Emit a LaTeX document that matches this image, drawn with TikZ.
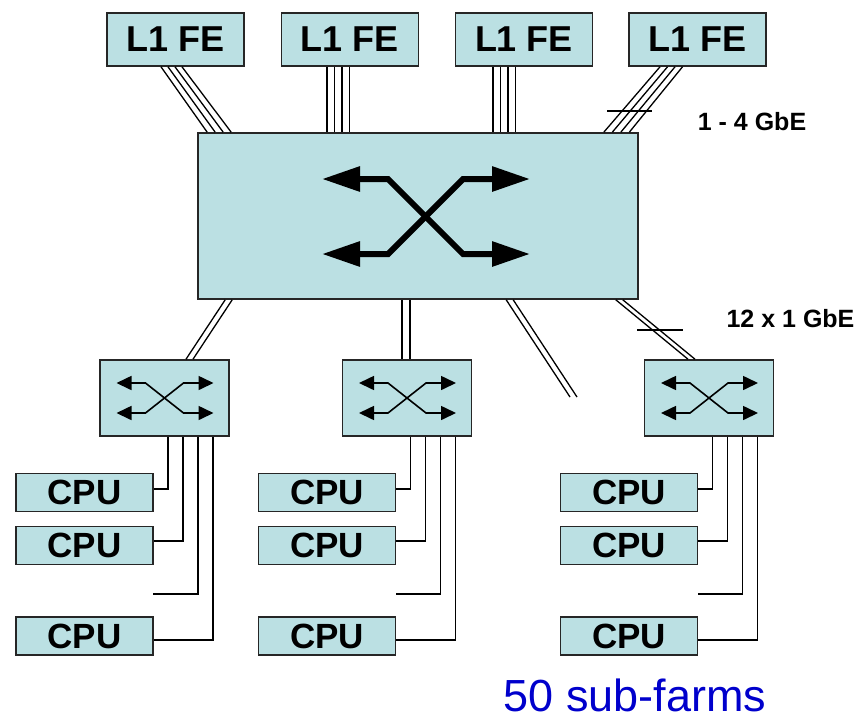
\documentclass[tikz,border=0pt]{standalone}
\usepackage{fontspec}
\setmainfont{Liberation Sans}
\usetikzlibrary{arrows.meta}

\definecolor{swfill}{RGB}{187,224,227}
\definecolor{farmblue}{RGB}{0,0,204}

\begin{document}
\begin{tikzpicture}[x=1pt, y=-1pt,
      box/.style={draw=black!85, line width=1.6pt, fill=swfill, inner sep=0pt},
      fe/.style={box, minimum width=137pt, minimum height=53pt,
                 font=\fontsize{36}{38}\selectfont\bfseries},
      cpu/.style={box, minimum width=137pt, minimum height=38pt,
                  font=\fontsize{35}{37}\selectfont\bfseries},
      swbox/.style={box, minimum width=129pt, minimum height=76pt},
      link/.style={line width=1.3pt},
      bigsw/.style={line width=6pt,
                    {Triangle[length=38pt,width=24pt]}-{Triangle[length=38pt,width=24pt]}},
      smallsw/.style={line width=1.6pt,
                      {Triangle[length=15pt,width=14pt]}-{Triangle[length=15pt,width=14pt]}},
      gbe/.style={font=\fontsize{25}{27}\selectfont\bfseries}]

    \useasboundingbox (0,0) rectangle (861,721);

    % ===== L1 front-end boxes =====
    \foreach \i/\x in {1/175.5, 2/350, 3/524, 4/697.5}
        \node[fe] (fe\i) at (\x,39.5) {L1 FE};

    % ===== Central switch =====
    \node[box, minimum width=440pt, minimum height=166pt] (main) at (418,216) {};
    \begin{scope}[shift={(main.center)}]
        \draw[bigsw] (-96,-37) -- (-30,-37) -- (45,38) -- (112,38);
        \draw[bigsw] (-96,38) -- (-30,38) -- (45,-37) -- (112,-37);
    \end{scope}

    % ===== 1 - 4 GbE links =====
    \foreach \k in {0,...,3} {
        \draw[link] ([xshift={-14.5+7*\k}]fe1.south) -- ([xshift={10+8*\k}]main.north west);
        \draw[link] ([xshift={-23+7.5*\k}]fe2.south) -- ([xshift={-23+7.5*\k}]fe2.south |- main.north);
        \draw[link] ([xshift={-31+7.5*\k}]fe3.south) -- ([xshift={-31+7.5*\k}]fe3.south |- main.north);
        \draw[link] ([xshift={-37.5+7.5*\k}]fe4.south) -- ([xshift={-35+8.5*\k}]main.north east);
    }
    \draw[link] (607,111) -- (652,111);
    \node[gbe] (lbl14) at (752,122) {1 - 4 GbE};

    % ===== Sub-farm switches, CPUs =====
    \foreach \s/\x in {1/164.5, 2/407, 3/709} {
        \node[swbox] (sw\s) at (\x,398) {};
        \begin{scope}[shift={(sw\s.center)}]
            \draw[smallsw] (-48,-15) -- (-19,-15) -- (19,15) -- (49,15);
            \draw[smallsw] (-48,15) -- (-19,15) -- (19,-15) -- (49,-15);
        \end{scope}

        \node[cpu] (cpuA\s) at (\x-80,492.5) {CPU};
        \node[cpu] (cpuB\s) at (\x-80,545.5) {CPU};
        \node[cpu] (cpuC\s) at (\x-80,636) {CPU};
        \coordinate (gap\s) at (\x-11.5,594);

        \draw[link] ([xshift=3.5]sw\s.south) |- ([yshift=3.5]cpuA\s.east);
        \draw[link] ([xshift=18.5]sw\s.south) |- ([yshift=4.5]cpuB\s.east);
        \draw[link] ([xshift=33.5]sw\s.south) |- (gap\s);
        \draw[link] ([xshift=48.5]sw\s.south) |- ([yshift=-4]cpuC\s.east);
    }

    % ===== 12 x 1 GbE links =====
    \coordinate (loose1) at (570,397);
    \coordinate (loose2) at (577,397);
    \foreach \k in {0,1} {
        \draw[link] ([xshift={28+7*\k}]main.south west) -- ([xshift={21.5+7*\k}]sw1.north);
        \draw[link] ([xshift={-5+8*\k}]sw2.north |- main.south) -- ([xshift={-5+8*\k}]sw2.north);
        \draw[link] ([xshift={-23+7*\k}]main.south east) -- ([xshift={-21+7*\k}]sw3.north);
    }
    \draw[link] ([xshift=309]main.south west) -- (loose1);
    \draw[link] ([xshift=316]main.south west) -- (loose2);
    \draw[link] (637,330) -- (683,330);
    \node[gbe] (lbl12) at (790.5,318.5) {12 x 1 GbE};

    % ===== Caption =====
    \node[anchor=base, text=farmblue, font=\fontsize{45}{47}\selectfont, inner sep=0pt]
        (farms) at (635,711) {50 sub-farms};

\end{tikzpicture}
\end{document}
